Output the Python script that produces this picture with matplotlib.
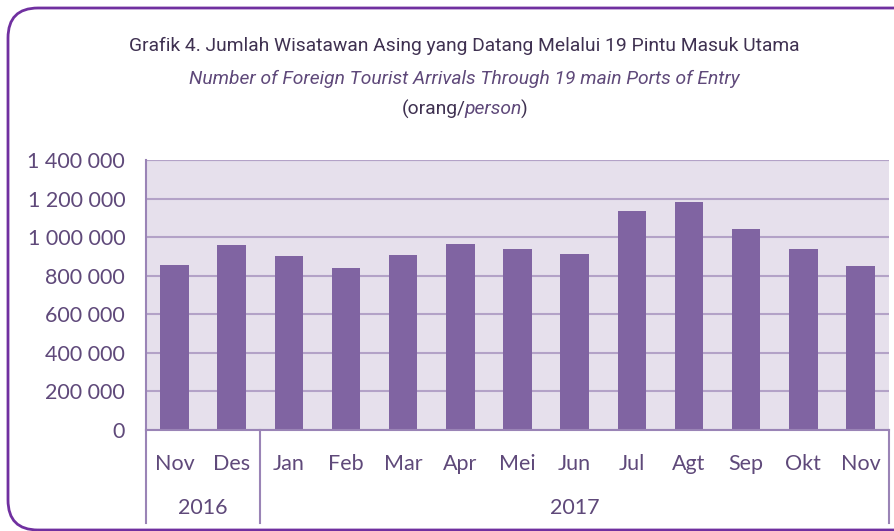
import matplotlib
matplotlib.use("Agg")
import matplotlib.pyplot as plt
from matplotlib.patches import FancyBboxPatch

months = ["Nov", "Des", "Jan", "Feb", "Mar", "Apr", "Mei", "Jun", "Jul", "Agt", "Sep", "Okt", "Nov"]
arrivals = [855500, 959000, 900500, 840000, 909000, 966000, 938500, 911000, 1134000, 1180500, 1040600, 938500, 848600]
years = ["2016", "2017"]
year_counts = [2, 11]
yticks = [0, 200000, 400000, 600000, 800000, 1000000, 1200000, 1400000]

title_font = "Roboto"
body = "Lato"

bar_c = "#8064A2"
bg_c = "#E6E0EC"
grid_c = "#B3A2C7"
axis_c = "#9A84B6"
text_c = "#5F497A"
dark_c = "#3F3151"

fig = plt.figure(figsize=(8.95, 5.31), dpi=100)
ax = fig.add_axes([146 / 895, 1 - 430 / 531, 743 / 895, 270 / 531])
ax.set_facecolor(bg_c)

x = list(range(len(months)))
ax.bar(x, arrivals, width=0.5, color=bar_c, zorder=3)
ax.set_xlim(-0.5, len(months) - 0.5)
ax.set_ylim(0, 1400000)
ax.set_yticks(yticks)
ax.set_yticklabels([f"{v:,}".replace(",", " ") for v in yticks], fontsize=15.5,
                   family=body, color=text_c)
ax.yaxis.grid(True, color=grid_c, linewidth=1.5, zorder=1)
ax.tick_params(axis="y", length=0, pad=15)
ax.set_xticks(x)
ax.set_xticklabels(months, fontsize=15.5, family=body, color=text_c)
ax.tick_params(axis="x", length=0, pad=17)
for s in ["top", "right"]:
    ax.spines[s].set_visible(False)
for s in ["left", "bottom"]:
    ax.spines[s].set_color(axis_c)
    ax.spines[s].set_linewidth(1.5)
    ax.spines[s].set_zorder(4)
ax.axhline(1400000, color=grid_c, linewidth=1.5, zorder=1)

# year groups below the axis
tr = ax.get_xaxis_transform()
start = -0.5
ax.plot([start, start], [0, -0.344], transform=tr, color=axis_c, lw=1.5, clip_on=False)
for yr, n in zip(years, year_counts):
    end = start + n
    ax.plot([end, end], [0, -0.344], transform=tr, color=axis_c, lw=1.5, clip_on=False)
    ax.text((start + end) / 2, -0.29, yr, transform=tr, ha="center", va="center",
            fontsize=15.5, family=body, color=text_c)
    start = end

# titles
fig.text(464 / 895, 1 - 46 / 531, "Grafik 4. Jumlah Wisatawan Asing yang Datang Melalui 19 Pintu Masuk Utama",
         ha="center", va="center", fontsize=13.9, family=title_font, color=dark_c)
fig.text(464 / 895, 1 - 79 / 531, "Number of Foreign Tourist Arrivals Through 19 main Ports of Entry",
         ha="center", va="center", fontsize=13.9, family=title_font, style="italic", color=text_c)
t1 = fig.text(400 / 895, 1 - 109 / 531, "(orang/", ha="left", va="center",
              fontsize=13.9, family=title_font, color=dark_c)
t2 = fig.text(0, 1 - 109 / 531, "person", ha="left", va="center",
              fontsize=13.9, family=title_font, style="italic", color=text_c)
t3 = fig.text(0, 1 - 109 / 531, ")", ha="left", va="center",
              fontsize=13.9, family=title_font, color=dark_c)
r = fig.canvas.get_renderer()
w = [t.get_window_extent(r).width - 1.5 for t in (t1, t2, t3)]
x0 = 464 - sum(w) / 2
t1.set_x(x0 / 895)
t2.set_x((x0 + w[0]) / 895)
t3.set_x((x0 + w[0] + w[1]) / 895)

# rounded frame
frame = FancyBboxPatch((0.08, 0.01), 9.5, 5.22, boxstyle="round,pad=0,rounding_size=0.3",
                       transform=fig.dpi_scale_trans, facecolor="none",
                       edgecolor="#7030A0", linewidth=2)
fig.patches.append(frame)

fig.savefig("out.png", dpi=100)
